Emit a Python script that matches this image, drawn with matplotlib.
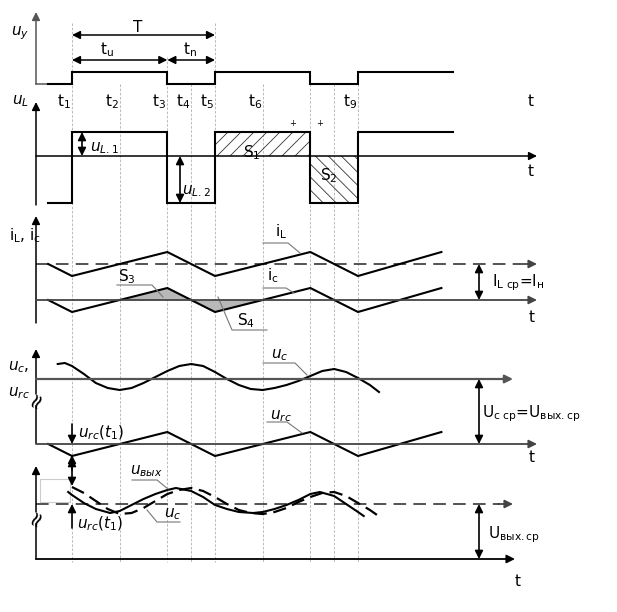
import numpy as np
import matplotlib
matplotlib.use('Agg')
import matplotlib.pyplot as plt
from matplotlib.patches import Rectangle

plt.rcParams['font.family'] = ['DejaVu Sans']
plt.rcParams['mathtext.fontset'] = 'dejavusans'

# моменты времени t1..t9 (период T = 3 единицы: tu = 2, tn = 1)
t_marks = [1, 2, 3, 3.5, 4, 5, 6, 6.5, 7]
t_names = ['t$_1$', 't$_2$', 't$_3$', 't$_4$', 't$_5$', 't$_6$', '', '', 't$_9$']
grid_top = [23, 84, 57, 84, 23, 84, 84, 84, 84]

# управляющие импульсы u_y: моменты переключения и состояние ключа
sw_t = [0.5, 1, 1, 3, 3, 4, 4, 6, 6, 7, 7, 9.0]
sw_state = [0, 0, 1, 1, 0, 0, 1, 1, 0, 0, 1, 1]

# уровни u_L (в пикселях от оси)
uL_hi = 24
uL_lo = -47

# пульсации тока i_c (и напряжения u_rc)
rip_t = [0.5, 1, 3, 4, 6, 7, 8.75]
rip_v = [0.0, -1.0, 1.0, -1.0, 1.0, -1.0, 1.0]
I_avg = 3.0

# u_c (четвёртая диаграмма), отсчёт от линии U_c ср
uc_t = [0.70, 0.85, 1.00, 1.25, 1.50, 1.75, 2.00, 2.25, 2.50, 2.75, 3.00, 3.25, 3.50, 3.75,
        4.00, 4.25, 4.50, 4.75, 5.00, 5.25, 5.50, 5.75, 6.00, 6.25, 6.50, 6.75, 7.00, 7.25, 7.44]
uc_v = [15, 16, 13, 5, -4, -9, -11, -9, -4, 2, 8, 13, 15, 13,
        7, 0, -6, -10, -11, -9, -6, -2, 3, 8, 10, 7, 1, -6, -13]

# u_c (пятая диаграмма, штрих)
uc2_t = [1.00, 1.25, 1.50, 1.75, 2.00, 2.25, 2.50, 2.75, 3.00, 3.25, 3.50, 3.75, 4.00, 4.25,
         4.50, 4.75, 5.00, 5.25, 5.50, 5.75, 6.00, 6.25, 6.50, 6.75, 7.00, 7.25, 7.46]
uc2_v = [17, 11, 3, -5, -10, -9, -4, 3, 10, 14, 16, 13, 7, 0,
         -6, -9, -10, -8, -4, 2, 7, 11, 12, 8, 1, -6, -13]

# u_вых
uout_t = [0.92, 1.0, 1.25, 1.5, 1.8, 2.0, 2.25, 2.5, 2.75, 3.0, 3.18, 3.5, 3.75, 4.0,
          4.25, 4.5, 4.8, 5.0, 5.25, 5.5, 5.75, 6.0, 6.2, 6.5, 6.75, 7.0, 7.12]
uout_v = [12, 9, 1, -5, -9, -7, -1, 5, 10, 14, 16, 13, 7, -1,
          -5, -8, -9, -8, -5, -1, 4, 10, 12, 8, 0, -8, -12]

PX_T = 143 / 3.0


def X(t):
    return 72 + (np.asarray(t, dtype=float) - 1) * PX_T


def arrow(ax, p0, p1, both=False, color='black', lw=1.1, ms=12):
    style = '<|-|>' if both else '-|>'
    ax.annotate('', xy=p1, xytext=p0,
                arrowprops=dict(arrowstyle=style, color=color, lw=lw,
                                mutation_scale=ms, shrinkA=0, shrinkB=0))


def leader(ax, pts):
    xs, ys = zip(*pts)
    ax.plot(xs, ys, color='#777777', lw=0.8)


def hatch(ax, x0, x1, y0, y1, forward=True, step=13):
    """штриховка площади (y0 сверху, y1 снизу)"""
    rect = Rectangle((x0, y0), x1 - x0, y1 - y0, fill=False, lw=0)
    ax.add_patch(rect)
    h = y1 - y0
    for c in np.arange(x0 - h - step, x1 + step, step):
        if forward:
            ln, = ax.plot([c, c + h], [y1, y0], color='#333333', lw=0.6)
        else:
            ln, = ax.plot([c, c + h], [y0, y1], color='#333333', lw=0.6)
        ln.set_clip_path(rect)


fig = plt.figure(figsize=(6.17, 6.12), dpi=100)
ax = fig.add_axes([0, 0, 1, 1])
ax.set_xlim(0, 617)
ax.set_ylim(612, 0)
ax.axis('off')

FS = 11
sig = dict(color='black', lw=1.5, solid_joinstyle='miter')
axc = '#444444'

# вертикальные пунктиры
for t, top in zip(t_marks, grid_top):
    ax.plot([X(t), X(t)], [top, 562], color='#b0b0b0', lw=0.6, ls=(0, (3, 2)), zorder=0)
for t, name in zip(t_marks, t_names):
    if name:
        ax.text(X(t) - 8, 102, name, fontsize=FS, ha='center', va='center')

state = np.array(sw_state)

# --- u_y ---
arrow(ax, (36, 84), (36, 12), color='#555555')
ax.plot([36, 48], [84, 84], color='#555555', lw=1.1)
ax.plot(X(sw_t), 84 - 12 * state, **sig)
ax.text(20, 33, '$u_y$', fontsize=FS, ha='center', va='center')
arrow(ax, (X(1), 35), (X(4), 35), both=True)
ax.text(138, 28, 'T', fontsize=FS, ha='center', va='center')
arrow(ax, (X(1), 60), (X(3), 60), both=True)
arrow(ax, (X(3), 60), (X(4), 60), both=True)
ax.text(107, 50, 't$_\\mathrm{u}$', fontsize=FS, ha='center', va='center')
ax.text(190, 50, 't$_\\mathrm{n}$', fontsize=FS, ha='center', va='center')
ax.text(531, 102, 't', fontsize=FS, ha='center', va='center')

# --- u_L ---
arrow(ax, (36, 205), (36, 102))
ax.text(20, 101, '$u_L$', fontsize=FS, ha='center', va='center')
arrow(ax, (36, 156), (537, 156))
hatch(ax, X(4), X(6), 156 - uL_hi, 156, forward=True)
hatch(ax, X(6), X(7), 156, 156 - uL_lo, forward=False)
ax.plot(X(sw_t), 156 - np.where(state == 1, uL_hi, uL_lo), **sig)
arrow(ax, (82, 156 - uL_hi), (82, 156), both=True, lw=1.2)
ax.text(90, 148, '$u_{L.1}$', fontsize=FS, ha='left', va='center')
arrow(ax, (180, 156), (180, 156 - uL_lo), both=True, lw=1.2)
ax.text(182, 191, '$u_{L.2}$', fontsize=FS, ha='left', va='center')
ax.text(252, 153, 'S$_1$', fontsize=FS, ha='center', va='center')
ax.text(329, 176, 'S$_2$', fontsize=FS, ha='center', va='center')
ax.text(293, 124, '+', fontsize=6, ha='center', va='center')
ax.text(320, 124, '+', fontsize=6, ha='center', va='center')
ax.text(531, 172, 't', fontsize=FS, ha='center', va='center')

# --- i_L, i_c ---
rip = np.array(rip_v)
iL_y = 300 - 12 * (I_avg + rip)
ic_y = 300 - 12 * rip
xr = X(rip_t)
arrow(ax, (36, 323), (36, 216))
ax.text(9, 236, 'i$_\\mathrm{L}$, i$_\\mathrm{c}$', fontsize=FS, ha='left', va='center')
ax.plot([36, 520], [300 - 12 * I_avg] * 2, color=axc, lw=1.3, ls=(0, (7, 4)))
arrow(ax, (520, 300 - 12 * I_avg), (537, 300 - 12 * I_avg), color=axc, lw=1.3)
arrow(ax, (36, 300), (537, 300), color=axc, lw=1.3)
ax.fill_between(xr[1:4], ic_y[1:4], 300, where=ic_y[1:4] < 300, interpolate=True,
                color='#b8b8b8', lw=0)
ax.fill_between(xr[2:5], ic_y[2:5], 300, where=ic_y[2:5] > 300, interpolate=True,
                color='#b8b8b8', lw=0)
ax.plot(xr, iL_y, **sig)
ax.plot(xr, ic_y, **sig)
leader(ax, [(263, 243), (288, 243), (300, 253)])
ax.text(281, 232, 'i$_\\mathrm{L}$', fontsize=FS, ha='center', va='center')
leader(ax, [(263, 288), (286, 288), (294, 293)])
ax.text(273, 276, 'i$_\\mathrm{c}$', fontsize=FS, ha='center', va='center')
leader(ax, [(117, 285), (152, 285), (163, 297)])
ax.text(127, 277, 'S$_3$', fontsize=FS, ha='center', va='center')
leader(ax, [(218, 297), (232, 330), (267, 330)])
ax.text(246, 321, 'S$_4$', fontsize=FS, ha='center', va='center')
arrow(ax, (479, 300 - 12 * I_avg), (479, 300), both=True, lw=1.2)
ax.text(492, 283, 'I$_\\mathrm{L\\ ср}$=I$_\\mathrm{н}$', fontsize=FS, ha='left', va='center')
ax.text(532, 317, 't', fontsize=FS, ha='center', va='center')

# --- u_c, u_rc ---
arrow(ax, (36, 394), (36, 349))
ax.plot([36, 36], [406, 443], color='black', lw=1.1)
ax.text(37, 400, '≈', fontsize=15, rotation=65, ha='center', va='center')
ax.text(8, 367, '$u_c$,', fontsize=FS, ha='left', va='center')
ax.text(8, 393, '$u_{rc}$', fontsize=FS, ha='left', va='center')
arrow(ax, (36, 379), (513, 379), color='#555555', lw=1.6)
ax.plot(X(uc_t), 379 - np.array(uc_v), **sig)
arrow(ax, (36, 444), (537, 444), color=axc, lw=1.3)
ax.plot(xr, 444 - 12 * rip, **sig)
leader(ax, [(263, 363), (295, 363), (307, 375)])
ax.text(280, 355, '$u_c$', fontsize=FS, ha='center', va='center')
leader(ax, [(267, 422), (287, 422), (302, 433)])
ax.text(281, 416, '$u_{rc}$', fontsize=FS, ha='center', va='center')
arrow(ax, (72, 424), (72, 444), lw=1.2)
ax.text(78, 433, '$u_{rc}(t_1)$', fontsize=FS, ha='left', va='center')
arrow(ax, (479, 379), (479, 444), both=True, lw=1.2)
ax.text(482, 414, 'U$_\\mathrm{c\\ ср}$=U$_\\mathrm{вых.ср}$', fontsize=FS, ha='left', va='center')
ax.text(532, 458, 't', fontsize=FS, ha='center', va='center')

# --- u_вых ---
arrow(ax, (36, 512), (36, 466))
ax.plot([36, 36], [524, 559], color='black', lw=1.1)
ax.text(37, 518, '≈', fontsize=15, rotation=65, ha='center', va='center')
ax.add_patch(Rectangle((40, 479), 30, 23, fill=False, ec='#cccccc', lw=0.8))
arrow(ax, (36, 559), (515, 559), lw=1.3)
ax.plot([36, 500], [504, 504], color=axc, lw=1.3, ls=(0, (7, 4)))
arrow(ax, (498, 504), (513, 504), color=axc, lw=1.3)
ax.plot(X(uout_t), 504 - np.array(uout_v), **sig)
ax.plot(X(uc2_t), 504 - np.array(uc2_v), color='black', lw=1.6, ls=(0, (6, 3)))
arrow(ax, (72, 470), (72, 455), lw=1.2)
arrow(ax, (72, 458), (72, 486), both=True, lw=1.2)
arrow(ax, (72, 528), (72, 504), lw=1.2)
ax.text(77, 524, '$u_{rc}(t_1)$', fontsize=FS, ha='left', va='center')
leader(ax, [(132, 480), (157, 480), (168, 489)])
ax.text(146, 471, '$u_{вых}$', fontsize=FS, ha='center', va='center')
leader(ax, [(147, 510), (157, 522), (180, 522)])
ax.text(173, 514, '$u_c$', fontsize=FS, ha='center', va='center')
arrow(ax, (479, 504), (479, 559), both=True, lw=1.2)
ax.text(488, 535, 'U$_\\mathrm{вых.ср}$', fontsize=FS, ha='left', va='center')
ax.text(518, 581, 't', fontsize=FS, ha='center', va='center')

fig.savefig('out.png', dpi=100, facecolor='white')
